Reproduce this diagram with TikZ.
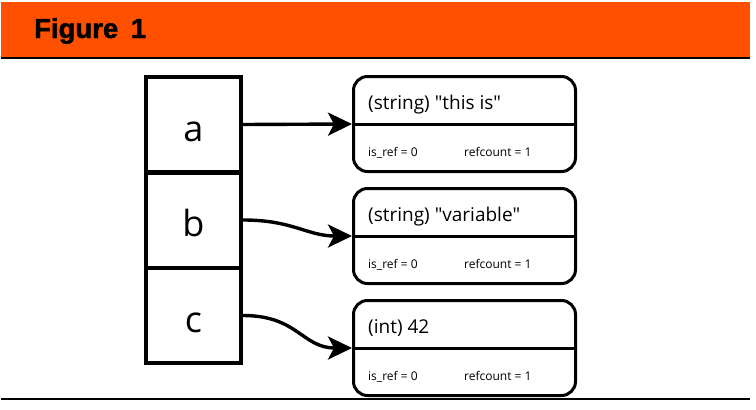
\documentclass[tikz,border=0pt]{standalone}
\usepackage{fontspec}
\setmainfont{Open Sans}[Ligatures=TeXOff]
\newfontfamily\headfont{Liberation Sans}[FakeBold=1.6]
\usetikzlibrary{arrows.meta}
\definecolor{headorange}{HTML}{FF5000}
\begin{document}
\begin{tikzpicture}[x=1pt,y=-1pt,
  cell/.style={draw, line width=4pt, minimum width=95pt, minimum height=95pt, inner sep=0pt},
  letter/.style={anchor=base, inner sep=0pt, font=\fontsize{36}{40}\selectfont},
  valbox/.style={draw, line width=3pt, rounded corners=14pt, minimum width=222pt, minimum height=95pt, inner sep=0pt},
  title/.style={anchor=base west, inner sep=0pt, font=\fontsize{19}{21}\selectfont},
  small/.style={anchor=base west, inner sep=0pt, font=\fontsize{12}{14}\selectfont},
  ptr/.style={line width=3.4pt, -{Stealth[length=24pt,width=23pt,inset=6pt]}}
]
\useasboundingbox (0,0) rectangle (756,410);
\fill[headorange] (1,2) rectangle (750,57);
\draw[line width=2.5pt] (1,58) -- (750,58);
\node[anchor=base west, inner sep=0pt, font=\headfont\bfseries\fontsize{27.5}{30}\selectfont] (fig) at (34,38) {Figure\hspace{5pt} 1};
\draw[line width=2.5pt] (1,399) -- (750,399);

\node[cell] (ca) at (193.5,124.5) {};
\node[cell] (cb) at (193.5,220) {};
\node[cell] (cc) at (193.5,315.5) {};
\node[letter] (la) at ([yshift=-16.5pt]ca.center) {a};
\node[letter] (lb) at ([yshift=-16.5pt]cb.center) {b};
\node[letter] (lc) at ([yshift=-16.5pt]cc.center) {c};

\node[valbox] (v1) at (464.5,124) {};
\node[valbox] (v2) at (464.5,236) {};
\node[valbox] (v3) at (464.5,348) {};
\foreach \v in {v1,v2,v3} {
  \draw[line width=3pt] (\v.west) -- (\v.east);
}
\node[title] (t1) at ([xshift=16pt,yshift=15pt]v1.west) {(string) "this is"};
\node[title] (t2) at ([xshift=16pt,yshift=15pt]v2.west) {(string) "variable"};
\node[title] (t3) at ([xshift=16pt,yshift=15pt]v3.west) {(int) 42};
\foreach \v/\n in {v1/1,v2/2,v3/3} {
  \node[small] (ra\n) at ([xshift=16pt,yshift=-32pt]\v.west) {is\_ref = 0};
  \node[small] (rb\n) at ([xshift=112pt,yshift=-32pt]\v.west) {refcount = 1};
}

\draw[ptr] (ca.east) -- (v1.west);
\draw[ptr] (cb.east) .. controls +(50,0) and +(-45,0) .. (v2.west);
\draw[ptr] (cc.east) .. controls +(55,0) and +(-50,0) .. (v3.west);
\end{tikzpicture}
\end{document}
